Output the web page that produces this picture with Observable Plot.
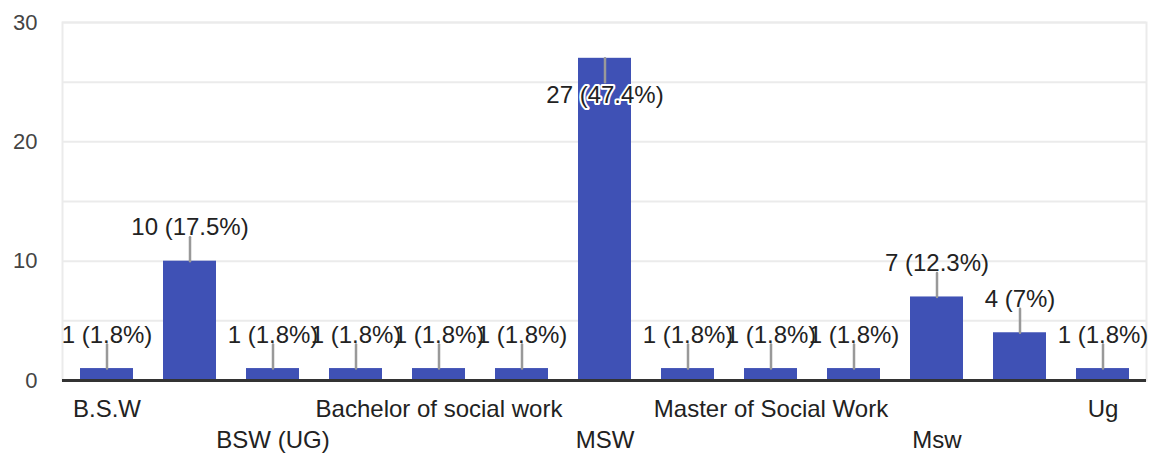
<!DOCTYPE html>
<html><head><meta charset="utf-8">
<script src="https://cdn.jsdelivr.net/npm/d3@7"></script>
<script src="https://cdn.jsdelivr.net/npm/@observablehq/plot@0.6"></script>
<style>
html,body{margin:0;padding:0;background:#fff;}
</style></head><body><div id="chart"></div>
<script>
const categories = ["B.S.W","BSW","BSW (UG)","Bachelor in social work","Bachelor of social work","Bachelors of Social Work","MSW","MA Social Work","Master of Social Work","Master of social work","Msw","Masters in Social Work","Ug"];
const counts = [1,10,1,1,1,1,27,1,1,1,7,4,1];
const yTickValues = [0,10,20,30];
const gridValues = [5,10,15,20,25,30];
const yDomain = [0,30];

const total = d3.sum(counts);
const data = categories.map((c,i)=>({cat:c, value:counts[i], idx:i,
  label:`${counts[i]} (${Math.round(counts[i]/total*1000)/10}%)`}));
const inside = d => d.value / yDomain[1] > 0.85;
const spike = {draw(context, l) { context.moveTo(0,0); context.lineTo(0,-l); }};
const font = "Arial, 'Liberation Sans', sans-serif";

const chart = Plot.plot({
  width:1155, height:454, marginLeft:62, marginRight:9, marginTop:22, marginBottom:74,
  style:{fontFamily:font, background:"#fff"},
  x:{domain:categories, paddingInner:0.364, paddingOuter:0.182, axis:null},
  y:{domain:yDomain, axis:null},
  marks:[
    Plot.ruleY(gridValues, {stroke:"#ebebeb", strokeWidth:2}),
    Plot.frame({stroke:"#ebebeb", strokeWidth:2}),
    Plot.axisY(yTickValues, {tickSize:0, tickPadding:25, fontSize:22, fill:"#444", label:null}),
    Plot.barY(data, {x:"cat", y:"value", fill:"#3f51b5"}),
    Plot.ruleY([0], {stroke:"#333", strokeWidth:3}),
    Plot.vector(data, {x:"cat", y:"value", length:24, rotate:d=>inside(d)?180:0, anchor:"start", shape:spike, stroke:"#999", strokeWidth:2.5}),
    Plot.text(data, {filter:d=>!inside(d), x:"cat", y:"value", text:"label", dy:-26, lineAnchor:"bottom", fontSize:24, fill:"#222"}),
    Plot.text(data, {filter:inside, x:"cat", y:"value", text:"label", dy:45, lineAnchor:"bottom", fontSize:24, fill:"#222", stroke:"#fff", strokeWidth:4, paintOrder:"stroke"}),
    Plot.text(data, {filter:d=>d.idx%4===0, x:"cat", frameAnchor:"bottom", text:"cat", dy:36, lineAnchor:"bottom", fontSize:24, fill:"#222"}),
    Plot.text(data, {filter:d=>d.idx%4===2, x:"cat", frameAnchor:"bottom", text:"cat", dy:67, lineAnchor:"bottom", fontSize:24, fill:"#222"})
  ]
});
document.getElementById("chart").appendChild(chart);
</script></body></html>
